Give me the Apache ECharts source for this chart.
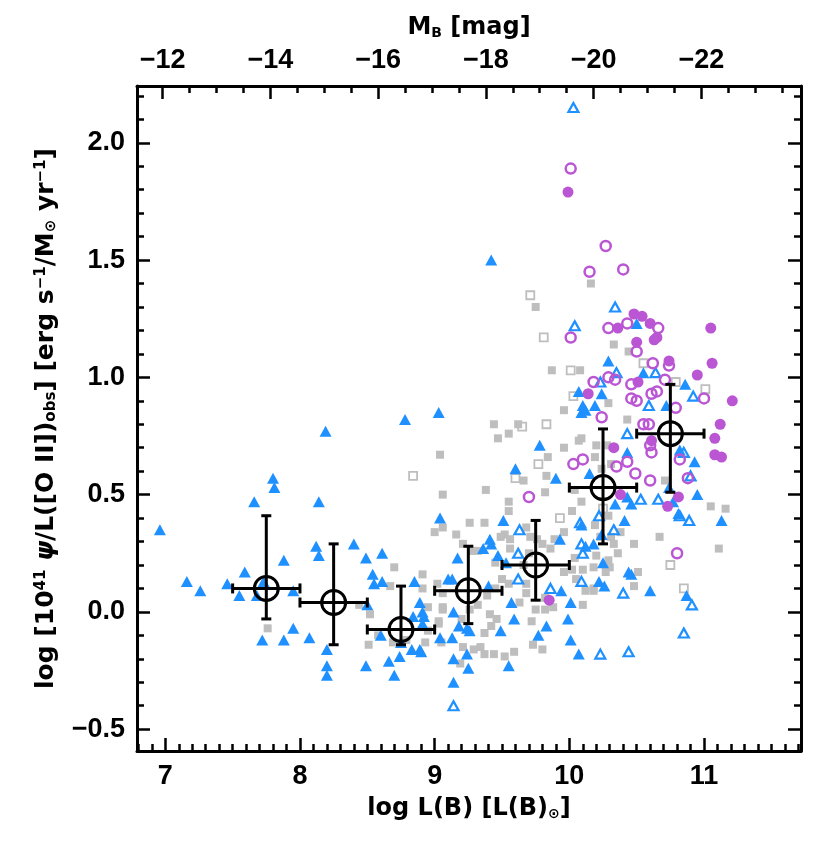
<!DOCTYPE html>
<html><head><meta charset="utf-8">
<script src="https://cdn.jsdelivr.net/npm/echarts@6/dist/echarts.min.js"></script>
<style>html,body{margin:0;padding:0;background:#fff}#c{width:830px;height:859px}</style>
</head><body><div id="c"></div>
<script>
// ---- axis settings ----
const xMin = 6.79, xMax = 11.72;
const yMin = -0.593, yMax = 2.242;
const MB_SUN = 5.45;
const xTicks = [7, 8, 9, 10, 11];
const yTicks = [-0.5, 0.0, 0.5, 1.0, 1.5, 2.0];
const mbTicks = [-12, -14, -16, -18, -20, -22];

// ---- binned means ----
const binX   = [7.75, 8.25, 8.75, 9.25, 9.75, 10.25, 10.75];
const binY   = [0.10, 0.04, -0.075, 0.09, 0.20, 0.53, 0.76];
const binXlo = [7.50, 8.00, 8.50, 9.00, 9.50, 10.00, 10.50];
const binXhi = [8.00, 8.50, 9.00, 9.50, 10.00, 10.50, 11.00];
const binYlo = [-0.03, -0.14, -0.14, -0.05, 0.05, 0.29, 0.51];
const binYhi = [0.41, 0.29, 0.11, 0.28, 0.39, 0.78, 0.97];

// ---- scatter samples [logL(B), y] ----
const blueFilled = [
[6.96,0.35],[7.80,0.57],[7.81,0.53],[7.66,0.47],[8.14,0.47],[7.16,0.13],[7.26,0.09],[7.46,0.12],[7.59,0.17],[7.55,0.07],[7.68,0.07],[7.73,0.13],[7.88,0.22],[7.95,0.09],[7.95,-0.07],[7.72,-0.12],[7.88,-0.12],[8.07,-0.11],[8.12,0.28],[8.14,0.24],[8.40,0.29],[8.49,0.23],[8.61,0.25],[8.54,0.16],[8.55,0.12],[8.61,0.13],[8.50,0.03],[8.20,-0.16],[8.20,-0.23],[8.20,-0.27],[8.49,-0.23],[8.66,-0.21],[8.70,-0.27],[8.74,-0.19],[8.60,-0.10],[8.85,0.13],[8.89,0.04],[8.91,0.00],[8.92,-0.02],[8.91,-0.05],[8.84,-0.02],[8.75,-0.13],[8.83,-0.16],[8.89,-0.16],[8.90,-0.17],[9.04,0.40],[9.04,-0.11],[9.10,0.14],[8.19,0.77],[8.78,0.82],
[9.03,0.85],[9.78,0.71],[9.60,0.61],[9.90,0.57],[9.51,0.39],[9.17,0.23],[9.41,0.31],[9.42,0.29],[9.36,0.27],[9.47,0.24],[9.53,0.21],[9.13,0.14],[9.40,0.11],[9.14,0.00],[9.18,-0.06],[9.24,-0.07],[9.26,-0.08],[9.13,-0.11],[9.24,-0.18],[9.14,-0.20],[9.25,-0.24],[9.14,-0.30],[9.49,-0.08],[9.55,-0.23],[9.57,0.04],[9.59,-0.03],[9.77,-0.10],[9.83,-0.06],[9.93,0.31],[9.94,0.09],[10.01,0.04],[9.99,-0.03],[10.01,-0.12],[10.07,-0.18],[10.25,0.21],[10.22,0.13],[10.26,0.11],[10.18,0.29],[10.24,0.93],[10.19,0.88],[10.10,0.88],[10.12,0.86],[10.07,0.94],[10.34,0.46],
[9.42,1.50],[10.29,1.07],[10.50,1.23],[10.55,1.02],[10.86,0.97],
[10.72,0.88],[10.82,0.69],[10.93,0.64],[10.95,0.50],[10.43,0.68],[10.15,0.59],[10.74,0.53],[10.43,0.49],[10.46,0.46],[10.77,0.47],[10.81,0.42],[11.13,0.39],[10.44,0.17],[10.46,0.16],[10.60,0.09],[10.87,0.07],[10.09,0.85],[10.41,0.39],[10.24,0.33],[10.09,0.37],[10.12,0.28]
];
const blueOpen = [
[9.63,0.35],[9.62,0.25],[9.62,0.14],[10.08,0.38],[10.09,0.29],[10.10,0.25],[10.09,0.13],[9.86,0.10],[10.23,-0.18],[9.14,-0.40],[10.22,0.41],[10.33,0.35],[10.03,2.15],[10.04,1.22],[10.34,1.30],[10.35,1.02],[10.64,1.02],[10.23,0.98],[10.92,0.92],[10.59,0.88],[10.43,0.76],[10.85,0.68],[10.90,0.58],[10.53,0.48],[10.66,0.48],[10.82,0.41],[10.89,0.39],[10.40,0.08],[10.44,-0.17],[10.85,-0.09],[10.91,0.03]
];
const grayFilled = [
[9.06,0.50],[9.06,0.36],[9.00,0.34],[8.70,0.19],[8.91,0.16],[8.91,0.10],[9.02,0.12],[8.95,0.02],[9.06,0.02],[9.03,-0.05],[8.67,0.11],[8.52,-0.01],[8.44,0.03],[8.51,-0.14],[7.76,-0.07],[8.69,-0.13],[8.79,-0.12],[8.93,-0.13],[8.95,-0.08],[9.05,-0.13],[8.58,-0.10],
[9.44,0.80],[9.47,0.74],[9.55,0.76],[9.62,0.80],[9.96,0.70],[9.84,0.66],[9.83,0.58],[9.66,0.56],[9.38,0.52],[9.04,0.67],[9.82,0.51],[9.55,0.47],[9.55,0.43],[9.26,0.38],[9.37,0.38],[9.16,0.33],[9.52,0.33],[9.56,0.31],[9.68,0.36],[9.71,0.32],[9.76,0.31],[9.80,0.29],[9.86,0.27],[9.89,0.31],[10.04,0.23],[10.02,0.18],[10.05,0.14],[10.10,0.03],[10.18,0.10],[10.27,0.17],[10.30,0.19],[9.21,0.29],[9.28,0.26],[9.32,0.26],[9.45,0.21],[9.50,0.14],[9.55,0.12],[9.45,0.10],[9.39,0.07],[9.32,0.03],[9.41,-0.01],[9.46,-0.03],[9.42,-0.06],[9.37,-0.09],[9.34,-0.15],[9.37,-0.18],[9.44,-0.18],[9.52,-0.19],[9.59,-0.17],[9.73,-0.14],[9.80,-0.16],[9.72,-0.04],[9.75,0.01],[9.68,0.08],[9.63,0.04],[9.68,0.12],[9.82,0.01],[9.82,0.06],[9.88,0.02],[10.10,0.18],[10.31,0.32],[9.06,0.01],[9.03,-0.04],[9.06,0.08],[9.20,-0.03],[9.26,0.01],[9.21,-0.15],[9.19,-0.22],[9.29,-0.16],[9.49,0.32],[9.56,0.27],[9.66,0.20],[9.70,0.25],[9.96,0.17],[9.96,0.34],[10.07,0.73],[10.09,0.74],[10.20,0.71],[10.19,0.66],[10.28,0.71],[10.24,0.61],[10.31,0.63],[10.29,0.89],[9.96,0.86],[10.04,0.52],[10.09,0.47],[10.02,0.43],[10.19,0.37],[10.23,0.32],[10.29,0.22],[10.20,0.24],[10.18,0.19],
[10.16,1.40],[9.75,1.30],[9.87,1.03],[10.08,1.03],[10.33,1.14],[10.44,1.11],
[10.43,0.82],[10.71,0.56],[11.05,0.45],[11.16,0.44],[11.11,0.27],[10.67,0.32],[10.48,0.29],[10.36,0.25],[10.51,0.17],[10.48,0.11],[10.29,0.41],[10.38,0.34],[10.33,0.29],[10.12,0.09],[10.18,0.09]
];
const grayOpen = [
[8.84,0.58],[9.83,0.80],[9.65,0.79],[9.77,0.63],[9.60,0.57],[9.93,0.40],[10.03,0.92],[10.25,0.44],[9.71,1.35],[9.81,1.17],[10.01,1.03],[10.55,1.06],[10.79,0.98],[11.01,0.95],[10.75,0.20],[10.85,0.10]
];
const purpleFilled = [
[10.14,0.93],[10.33,0.70],[9.85,0.05],[9.99,1.79],[10.48,1.27],[10.54,1.26],[10.36,1.21],[10.60,1.23],[10.65,1.17],[10.63,1.16],[10.50,1.15],[10.74,1.07],[10.95,1.01],[10.51,0.98],[11.05,1.21],[11.06,1.06],[11.21,0.90],[11.12,0.80],[11.08,0.74],[11.08,0.67],[11.13,0.66],[10.61,0.73],[10.38,0.50],[10.73,0.45],[10.81,0.49]
];
const purpleOpen = [
[10.24,0.83],[10.03,0.63],[10.10,0.65],[10.35,0.62],[9.70,0.49],[10.01,1.89],[10.27,1.56],[10.15,1.45],[10.40,1.46],[10.01,1.17],[10.29,1.21],[10.43,1.23],[10.50,1.11],[10.62,1.06],[10.74,1.05],[10.29,1.00],[10.18,0.98],[10.34,0.99],[10.46,0.97],[10.66,1.21],[11.00,0.91],[10.71,0.99],[10.79,0.87],[10.46,0.91],[10.50,0.90],[10.61,0.93],[10.65,0.94],[10.55,0.80],[10.59,0.80],[10.60,0.71],[10.61,0.68],[10.82,0.65],[10.88,0.57],[10.43,0.64],[10.49,0.59],[10.60,0.56],[10.80,0.25]
];

// ---- styling ----
const BLUE = '#1E90FF', PURPLE = '#BA55D3', GRAY = '#BEBEBE';
const FONT = 'Liberation Sans';
const TFONT = 'DejaVu Sans';
const range = (a, b, s) => { const r = []; for (let v = a; v <= b + 1e-9; v += s) r.push(Math.round(v * 1000) / 1000); return r; };
const fmt1 = v => (v < 0 ? '\u2212' : '') + Math.abs(v).toFixed(1);
const fmtInt = v => (v < 0 ? '\u2212' : '') + Math.abs(v);

const gridBox = { left: 137, top: 86, right: 29, bottom: 108 };
const lab = { color: '#000', fontFamily: FONT, fontSize: 27, fontWeight: 'bold' };
const majTick = (vals) => ({ show: true, inside: true, length: 13, customValues: vals, lineStyle: { color: '#000', width: 2.5 } });
const minTick = (vals) => ({ show: true, inside: true, length: 7, customValues: vals, lineStyle: { color: '#000', width: 2.5 } });
const frameLine = { show: true, onZero: false, lineStyle: { color: '#000', width: 3 } };
const noLine = { show: true, onZero: false, lineStyle: { color: 'rgba(0,0,0,0)', width: 1 } };

const mbMin = MB_SUN - 2.5 * xMax, mbMax = MB_SUN - 2.5 * xMin;

const option = {
  animation: false,
  backgroundColor: '#fff',
  grid: [Object.assign({}, gridBox), Object.assign({}, gridBox)],
  xAxis: [
    { gridIndex: 0, type: 'value', position: 'bottom', min: xMin, max: xMax,
      axisLine: frameLine, axisTick: majTick(xTicks), splitLine: { show: false },
      axisLabel: Object.assign({ customValues: xTicks, margin: 12, formatter: v => String(v) }, lab),
      name: '{t|log L(B) [L(B)}{s|\u2299}{t|]}', nameLocation: 'middle', nameGap: 46,
      nameTextStyle: { rich: { t: { fontFamily: TFONT, fontSize: 24, fontWeight: 'bold', color: '#000' },
                               s: { fontFamily: TFONT, fontSize: 14, fontWeight: 'bold', color: '#000', verticalAlign: 'bottom', padding: [10,0,0,0] } } } },
    { gridIndex: 0, type: 'value', position: 'top', min: mbMin, max: mbMax, inverse: true,
      axisLine: frameLine, axisTick: majTick(mbTicks), splitLine: { show: false },
      axisLabel: Object.assign({ customValues: mbTicks, margin: 12, formatter: fmtInt }, lab),
      name: '{t|M}{s|B}{t| [mag]}', nameLocation: 'middle', nameGap: 46,
      nameTextStyle: { rich: { t: { fontFamily: TFONT, fontSize: 24, fontWeight: 'bold', color: '#000' },
                               s: { fontFamily: TFONT, fontSize: 14, fontWeight: 'bold', color: '#000', verticalAlign: 'bottom', padding: [10,0,0,0] } } } },
    { gridIndex: 1, type: 'value', position: 'bottom', min: xMin, max: xMax,
      axisLine: noLine, axisTick: minTick(range(6.8, 11.7, 0.1)), axisLabel: { show: false }, splitLine: { show: false } },
    { gridIndex: 1, type: 'value', position: 'top', min: mbMin, max: mbMax, inverse: true,
      axisLine: noLine, axisTick: minTick(range(-23.5, -11.5, 0.5)), axisLabel: { show: false }, splitLine: { show: false } }
  ],
  yAxis: [
    { gridIndex: 0, type: 'value', position: 'left', min: yMin, max: yMax,
      axisLine: frameLine, axisTick: majTick(yTicks), splitLine: { show: false },
      axisLabel: Object.assign({ customValues: yTicks, margin: 12, formatter: fmt1 }, lab),
      name: '{t|log [10}{p|41}{g| \u03C8}{t|/L([O II])}{b|obs}{t|] [erg s}{p|\u22121}{t|/M}{b|\u2299}{t| yr}{p|\u22121}{t|]}',
      nameLocation: 'middle', nameRotate: 90, nameGap: 78,
      nameTextStyle: { rich: {
        t: { fontFamily: TFONT, fontSize: 25, fontWeight: 'bold', color: '#000' },
        g: { fontFamily: TFONT, fontSize: 25, fontWeight: 'bold', fontStyle: 'italic', color: '#000' },
        p: { fontFamily: TFONT, fontSize: 15, fontWeight: 'bold', color: '#000', verticalAlign: 'top' },
        b: { fontFamily: TFONT, fontSize: 15, fontWeight: 'bold', color: '#000', verticalAlign: 'bottom', padding: [8,0,0,0] } } } },
    { gridIndex: 0, type: 'value', position: 'right', min: yMin, max: yMax,
      axisLine: frameLine, axisTick: majTick(yTicks), axisLabel: { show: false }, splitLine: { show: false } },
    { gridIndex: 1, type: 'value', position: 'left', min: yMin, max: yMax,
      axisLine: noLine, axisTick: minTick(range(-0.5, 2.2, 0.1)), axisLabel: { show: false }, splitLine: { show: false } },
    { gridIndex: 1, type: 'value', position: 'right', min: yMin, max: yMax,
      axisLine: noLine, axisTick: minTick(range(-0.5, 2.2, 0.1)), axisLabel: { show: false }, splitLine: { show: false } }
  ],
  series: [
    { type: 'scatter', xAxisIndex: 0, yAxisIndex: 0, data: grayFilled, symbol: 'rect', symbolSize: 8,
      itemStyle: { color: GRAY, opacity: 1 }, silent: true },
    { type: 'scatter', xAxisIndex: 0, yAxisIndex: 0, data: grayOpen, symbol: 'rect', symbolSize: 8,
      itemStyle: { color: 'rgba(0,0,0,0)', borderColor: GRAY, borderWidth: 1.8, opacity: 1 }, silent: true },
    { type: 'scatter', xAxisIndex: 0, yAxisIndex: 0, data: blueFilled, symbol: 'triangle', symbolSize: [12, 11],
      itemStyle: { color: BLUE, opacity: 1 }, silent: true },
    { type: 'scatter', xAxisIndex: 0, yAxisIndex: 0, data: blueOpen, symbol: 'triangle', symbolSize: [10, 9],
      itemStyle: { color: 'rgba(0,0,0,0)', borderColor: BLUE, borderWidth: 2.2, opacity: 1 }, silent: true },
    { type: 'scatter', xAxisIndex: 0, yAxisIndex: 0, data: purpleFilled, symbol: 'circle', symbolSize: 11,
      itemStyle: { color: PURPLE, opacity: 1 }, silent: true },
    { type: 'scatter', xAxisIndex: 0, yAxisIndex: 0, data: purpleOpen, symbol: 'circle', symbolSize: 10,
      itemStyle: { color: 'rgba(0,0,0,0)', borderColor: PURPLE, borderWidth: 2.5, opacity: 1 }, silent: true },
    { type: 'custom', xAxisIndex: 0, yAxisIndex: 0, z: 10, silent: true,
      data: binX.map((x, i) => [x, binY[i], binXlo[i], binXhi[i], binYlo[i], binYhi[i]]),
      renderItem: function (params, api) {
        const c = api.coord([api.value(0), api.value(1)]);
        const l = api.coord([api.value(2), api.value(1)]);
        const r = api.coord([api.value(3), api.value(1)]);
        const b = api.coord([api.value(0), api.value(4)]);
        const t = api.coord([api.value(0), api.value(5)]);
        const st = { stroke: '#000', lineWidth: 3, fill: null };
        const cap = 5;
        return { type: 'group', children: [
          { type: 'line', shape: { x1: l[0], y1: c[1], x2: r[0], y2: c[1] }, style: st },
          { type: 'line', shape: { x1: l[0], y1: c[1] - cap, x2: l[0], y2: c[1] + cap }, style: st },
          { type: 'line', shape: { x1: r[0], y1: c[1] - cap, x2: r[0], y2: c[1] + cap }, style: st },
          { type: 'line', shape: { x1: c[0], y1: b[1], x2: c[0], y2: t[1] }, style: st },
          { type: 'line', shape: { x1: c[0] - cap, y1: b[1], x2: c[0] + cap, y2: b[1] }, style: st },
          { type: 'line', shape: { x1: c[0] - cap, y1: t[1], x2: c[0] + cap, y2: t[1] }, style: st }
        ] };
      } },
    { type: 'scatter', xAxisIndex: 0, yAxisIndex: 0, z: 11, data: binX.map((x, i) => [x, binY[i]]),
      symbol: 'circle', symbolSize: 24, silent: true,
      itemStyle: { color: 'rgba(0,0,0,0)', borderColor: '#000', borderWidth: 3, opacity: 1 } }
  ]
};
const chart = echarts.init(document.getElementById('c'), null, { renderer: 'canvas' });
chart.setOption(option);
</script></body></html>
